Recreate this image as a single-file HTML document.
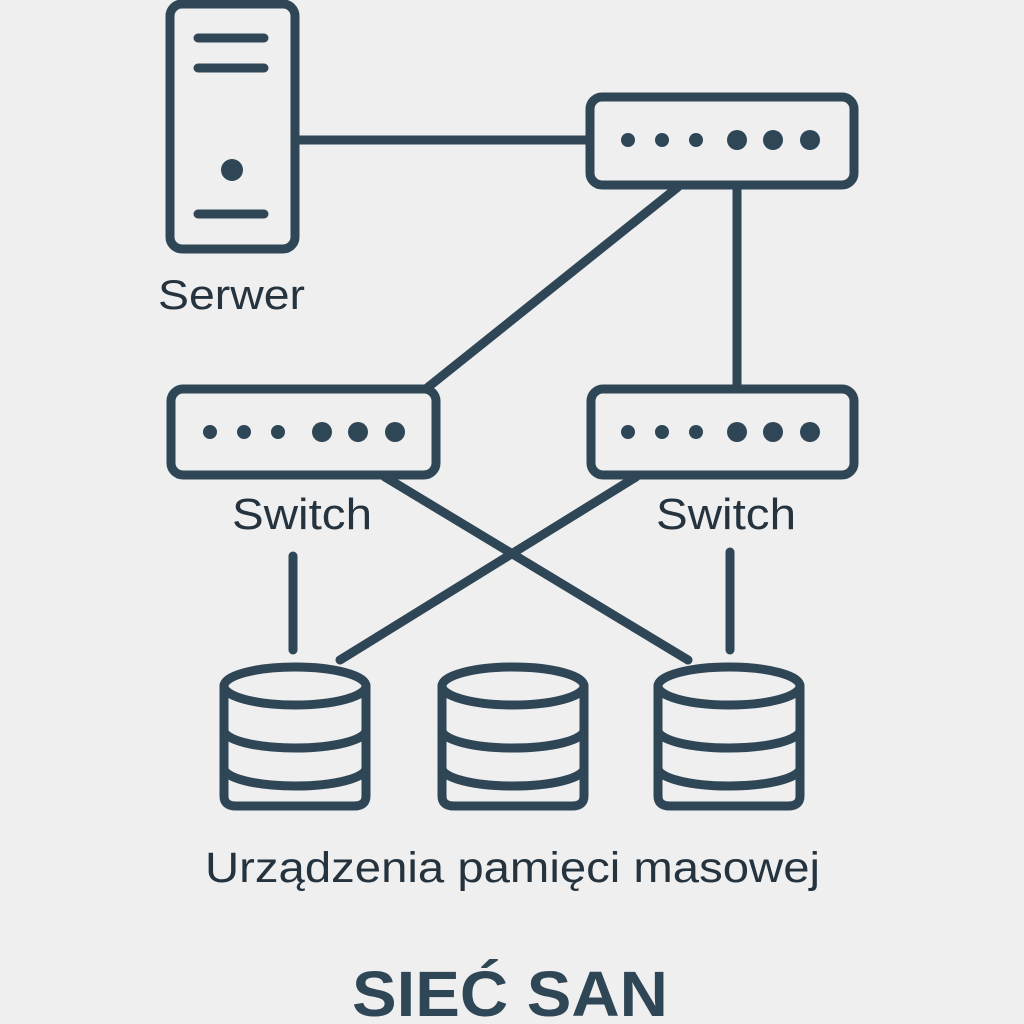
<!DOCTYPE html>
<html><head><meta charset="utf-8"><style>
html,body{margin:0;padding:0;background:#efefef;}
svg{display:block}
text{font-family:"Liberation Sans","DejaVu Sans",sans-serif;fill:#25333f}
</style></head><body>
<svg width="1024" height="1024" viewBox="0 0 1024 1024">
<rect width="1024" height="1024" fill="#efefef"/>
<g stroke="#2f4656" stroke-width="9" fill="none" stroke-linecap="round">
<rect x="170" y="4" width="125" height="245" rx="12"/>
<line x1="198" y1="38" x2="264" y2="38"/>
<line x1="198" y1="68" x2="264" y2="68"/>
<line x1="198" y1="214" x2="264" y2="214"/>
<line x1="296" y1="140" x2="590" y2="140"/>
<rect x="590" y="97" width="264" height="88" rx="12"/>
<line x1="678" y1="187" x2="427" y2="388"/>
<line x1="737" y1="187" x2="737" y2="386"/>
<rect x="171" y="389" width="265" height="86" rx="12"/>
<rect x="591" y="389" width="263" height="86" rx="12"/>
<line x1="293" y1="556" x2="293" y2="650"/>
<line x1="730" y1="552" x2="730" y2="650"/>
<line x1="385" y1="477" x2="688" y2="660"/>
<line x1="636" y1="477" x2="340" y2="660"/>
<g id="c">
<path d="M224,686 A71,19 0 0 1 366,686 A71,19 0 0 1 224,686 Z" fill="#efefef"/>
<path d="M224,686 L224,796 Q224,806 236,806 L354,806 Q366,806 366,796 L366,686"/>
<path d="M224,730 A71,18 0 0 0 366,730"/>
<path d="M224,768 A71,18 0 0 0 366,768"/>
</g>
<use href="#c" x="218"/>
<use href="#c" x="434"/>
</g>
<g fill="#2f4656">
<circle cx="232" cy="170" r="11"/>
<circle cx="628" cy="140" r="7"/><circle cx="662" cy="140" r="7"/><circle cx="696" cy="140" r="7"/>
<circle cx="737" cy="140" r="10"/><circle cx="773" cy="140" r="10"/><circle cx="810" cy="140" r="10"/>
<circle cx="210" cy="432" r="7"/><circle cx="244" cy="432" r="7"/><circle cx="278" cy="432" r="7"/>
<circle cx="322" cy="432" r="10"/><circle cx="358" cy="432" r="10"/><circle cx="395" cy="432" r="10"/>
<circle cx="628" cy="432" r="7"/><circle cx="662" cy="432" r="7"/><circle cx="696" cy="432" r="7"/>
<circle cx="737" cy="432" r="10"/><circle cx="773" cy="432" r="10"/><circle cx="810" cy="432" r="10"/>
</g>
<text x="158" y="309" font-size="42" textLength="147" lengthAdjust="spacingAndGlyphs">Serwer</text>
<text x="232" y="529" font-size="44" textLength="140" lengthAdjust="spacingAndGlyphs">Switch</text>
<text x="656" y="529" font-size="44" textLength="140" lengthAdjust="spacingAndGlyphs">Switch</text>
<text x="205" y="882" font-size="43" textLength="615" lengthAdjust="spacingAndGlyphs">Urządzenia pamięci masowej</text>
<text x="352" y="1016" font-size="64" font-weight="bold" textLength="316" lengthAdjust="spacingAndGlyphs" style="fill:#2f4656">SIEĆ SAN</text>
</svg>
</body></html>
